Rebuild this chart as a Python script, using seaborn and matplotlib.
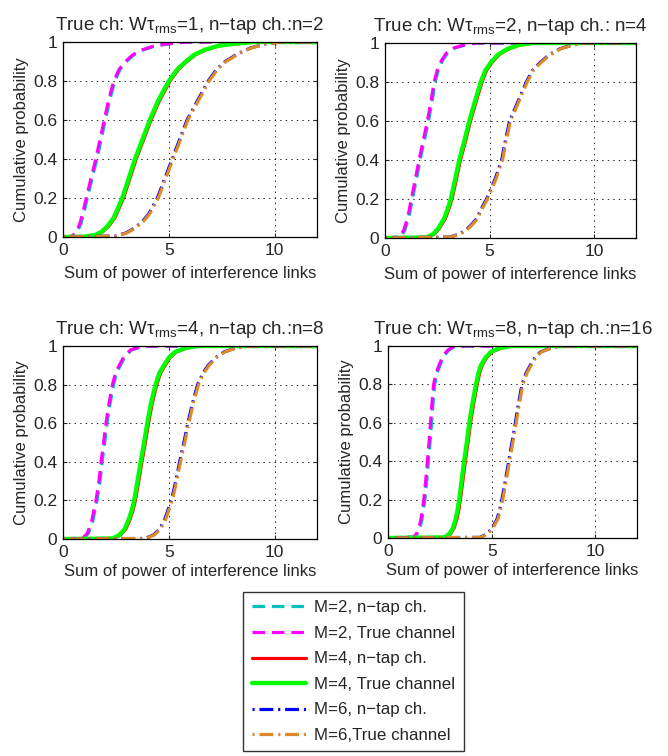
import pandas as pd
import matplotlib
matplotlib.use("Agg")
import matplotlib.pyplot as plt
import seaborn as sns

# panel titles
titles = [
    "True ch: Wτ$_\\mathregular{rms}$=1, n\u2212tap ch.:n=2",
    "True ch: Wτ$_\\mathregular{rms}$=2, n\u2212tap ch.: n=4",
    "True ch: Wτ$_\\mathregular{rms}$=4, n\u2212tap ch.:n=8",
    "True ch: Wτ$_\\mathregular{rms}$=8, n\u2212tap ch.:n=16",
]

# CDF points: (x, F) per panel
# panel 1
p1_m2_x = [0, 0.4, 0.6, 0.8, 0.95, 1.1, 1.3, 1.55, 1.75, 1.95, 2.15, 2.4, 2.65, 2.95, 3.3, 3.75, 4.3, 5.0, 5.8, 12]
p1_m2_f = [0, 0.003, 0.02, 0.07, 0.13, 0.2, 0.29, 0.4, 0.5, 0.6, 0.7, 0.8, 0.86, 0.9, 0.935, 0.96, 0.98, 0.992, 1, 1]
p1_m4_x = [0, 1.0, 1.5, 1.8, 2.1, 2.4, 2.6, 2.8, 3.1, 3.4, 3.75, 4.1, 4.5, 5.0, 5.4, 5.8, 6.2, 6.7, 7.3, 8.0, 9.0, 12]
p1_m4_f = [0, 0.002, 0.01, 0.025, 0.055, 0.1, 0.15, 0.2, 0.3, 0.4, 0.5, 0.6, 0.7, 0.8, 0.86, 0.9, 0.935, 0.96, 0.98, 0.99, 1, 1]
p1_m6_x = [0, 2.5, 3.0, 3.4, 3.8, 4.1, 4.5, 4.85, 5.2, 5.55, 5.9, 6.4, 6.9, 7.3, 7.7, 8.3, 8.9, 9.6, 10.3, 12]
p1_m6_f = [0, 0.005, 0.02, 0.045, 0.08, 0.12, 0.2, 0.3, 0.4, 0.5, 0.6, 0.7, 0.8, 0.86, 0.9, 0.94, 0.97, 0.99, 1, 1]
# panel 2
p2_m2_x = [0, 0.7, 0.9, 1.1, 1.26, 1.45, 1.63, 1.83, 2.03, 2.2, 2.35, 2.5, 2.7, 2.95, 3.3, 3.8, 4.3, 12]
p2_m2_f = [0, 0.005, 0.04, 0.11, 0.2, 0.3, 0.4, 0.5, 0.6, 0.7, 0.8, 0.86, 0.91, 0.95, 0.975, 0.99, 1, 1]
p2_m4_x = [0, 2.0, 2.3, 2.55, 2.83, 3.0, 3.15, 3.35, 3.55, 3.8, 4.03, 4.3, 4.58, 4.8, 5.06, 5.4, 5.86, 6.4, 7.1, 12]
p2_m4_f = [0, 0.003, 0.02, 0.05, 0.1, 0.15, 0.2, 0.3, 0.4, 0.5, 0.6, 0.7, 0.8, 0.86, 0.9, 0.94, 0.97, 0.99, 1, 1]
p2_m6_x = [0, 3.15, 3.6, 3.9, 4.15, 4.43, 4.65, 4.9, 5.3, 5.62, 5.8, 6.0, 6.4, 6.8, 7.1, 7.46, 7.9, 8.4, 9.0, 9.5, 12]
p2_m6_f = [0, 0.005, 0.02, 0.04, 0.065, 0.1, 0.15, 0.2, 0.3, 0.4, 0.5, 0.6, 0.7, 0.8, 0.86, 0.9, 0.94, 0.97, 0.99, 1, 1]
# panel 3
p3_m2_x = [0, 0.94, 1.15, 1.35, 1.56, 1.7, 1.8, 1.92, 2.03, 2.17, 2.34, 2.48, 2.66, 2.9, 3.2, 3.75, 12]
p3_m2_f = [0, 0.005, 0.03, 0.09, 0.2, 0.3, 0.4, 0.5, 0.6, 0.7, 0.8, 0.86, 0.9, 0.95, 0.98, 1, 1]
p3_m4_x = [0, 2.34, 2.65, 2.9, 3.1, 3.25, 3.36, 3.52, 3.67, 3.83, 3.98, 4.15, 4.37, 4.55, 4.77, 5.0, 5.3, 5.8, 6.4, 12]
p3_m4_f = [0, 0.003, 0.02, 0.05, 0.1, 0.15, 0.2, 0.3, 0.4, 0.5, 0.6, 0.7, 0.8, 0.86, 0.9, 0.94, 0.97, 0.99, 1, 1]
p3_m6_x = [0, 3.9, 4.3, 4.6, 4.84, 5.0, 5.16, 5.37, 5.55, 5.75, 5.94, 6.15, 6.4, 6.65, 6.9, 7.25, 7.66, 8.2, 8.75, 12]
p3_m6_f = [0, 0.003, 0.02, 0.05, 0.1, 0.15, 0.2, 0.3, 0.4, 0.5, 0.6, 0.7, 0.8, 0.86, 0.9, 0.94, 0.97, 0.99, 1, 1]
# panel 4
p4_m2_x = [0, 1.25, 1.42, 1.58, 1.73, 1.82, 1.9, 1.98, 2.05, 2.12, 2.2, 2.32, 2.46, 2.65, 2.9, 3.2, 12]
p4_m2_f = [0, 0.005, 0.03, 0.09, 0.2, 0.3, 0.4, 0.5, 0.6, 0.7, 0.8, 0.86, 0.9, 0.95, 0.98, 1, 1]
p4_m4_x = [0, 2.7, 2.95, 3.12, 3.27, 3.36, 3.43, 3.55, 3.67, 3.8, 3.92, 4.07, 4.24, 4.36, 4.48, 4.7, 4.97, 5.4, 5.94, 12]
p4_m4_f = [0, 0.003, 0.02, 0.05, 0.1, 0.15, 0.2, 0.3, 0.4, 0.5, 0.6, 0.7, 0.8, 0.86, 0.9, 0.94, 0.97, 0.99, 1, 1]
p4_m6_x = [0, 4.48, 4.8, 5.05, 5.3, 5.43, 5.53, 5.7, 5.86, 6.02, 6.18, 6.33, 6.5, 6.7, 6.9, 7.12, 7.4, 7.9, 8.37, 12]
p4_m6_f = [0, 0.003, 0.02, 0.05, 0.1, 0.15, 0.2, 0.3, 0.4, 0.5, 0.6, 0.7, 0.8, 0.86, 0.9, 0.94, 0.97, 0.99, 1, 1]

panels = [
    (p1_m2_x, p1_m2_f, p1_m4_x, p1_m4_f, p1_m6_x, p1_m6_f),
    (p2_m2_x, p2_m2_f, p2_m4_x, p2_m4_f, p2_m6_x, p2_m6_f),
    (p3_m2_x, p3_m2_f, p3_m4_x, p3_m4_f, p3_m6_x, p3_m6_f),
    (p4_m2_x, p4_m2_f, p4_m4_x, p4_m4_f, p4_m6_x, p4_m6_f),
]

labels = ["M=2, n\u2212tap ch.", "M=2, True channel",
          "M=4, n\u2212tap ch.", "M=4, True channel",
          "M=6, n\u2212tap ch.", "M=6,True channel"]
colors = ["#00BFBF", "#FF00FF", "#FF0000", "#00FF00", "#0000FF", "#DF8A28"]
styles = [(0, (9, 5)), (0, (9, 5)), "-", "-", (0, (1.5, 3.5, 10, 3.5)), (0, (1.5, 3.5, 10, 3.5))]
widths = [2.3, 2.3, 2.3, 3.1, 2.3, 2.3]
# small shift of the n-tap curve against the true channel curve
shifts = [0.05, 0.0, 0.06, 0.0, -0.04, 0.0]

sns.set_style("white")
plt.rcParams["font.family"] = ["Liberation Sans", "DejaVu Sans"]
plt.rcParams["mathtext.default"] = "regular"
plt.rcParams["lines.scale_dashes"] = False

fig = plt.figure(figsize=(6.68, 7.56), dpi=100)
boxes = [
    [0.0943, 0.6865, 0.3803, 0.2579],
    [0.5763, 0.6852, 0.3757, 0.2579],
    [0.0943, 0.2870, 0.3803, 0.2553],
    [0.5808, 0.2884, 0.3728, 0.2539],
]
xlabel_pads = [6, 6, 3, 3]

for i, (box, pdata, title) in enumerate(zip(boxes, panels, titles)):
    ax = fig.add_axes(box)
    curves = [(pdata[0], pdata[1]), (pdata[0], pdata[1]),
              (pdata[2], pdata[3]), (pdata[2], pdata[3]),
              (pdata[4], pdata[5]), (pdata[4], pdata[5])]
    for k, (xs, fs) in enumerate(curves):
        df = pd.DataFrame({"x": [v + shifts[k] if 0 < v < 12 else v for v in xs], "F": fs})
        sns.lineplot(data=df, x="x", y="F", ax=ax, color=colors[k], lw=widths[k],
                     linestyle=styles[k], label=labels[k], sort=False, estimator=None)
    ax.set_xlim(0, 12)
    ax.set_ylim(0, 1)
    ax.set_xticks([0, 5, 10])
    ax.set_yticks([0, 0.2, 0.4, 0.6, 0.8, 1])
    ax.set_yticklabels(["0", "0.2", "0.4", "0.6", "0.8", "1"])
    ax.grid(True, color="black", linestyle=(0, (1, 3)), linewidth=0.6)
    ax.tick_params(direction="in", length=3, labelsize=12.5, top=True, right=True,
                   bottom=True, left=True, pad=4)
    for s in ax.spines.values():
        s.set_color("black")
        s.set_linewidth(0.9)
    ax.set_xlabel("Sum of power of interference links", fontsize=12, labelpad=xlabel_pads[i])
    ax.set_ylabel("Cumulative probability", fontsize=12, labelpad=3)
    ax.set_title(title, fontsize=13.5, pad=9)
    if i == 0:
        handles, labs = ax.get_legend_handles_labels()
    ax.get_legend().remove()

leg = fig.legend(handles, labs, loc="upper left", bbox_to_anchor=(0.364, 0.217),
                 fontsize=12.2, frameon=True, fancybox=False, handlelength=3.2,
                 labelspacing=0.62, borderpad=0.5, handletextpad=0.5, borderaxespad=0)
leg.get_frame().set_edgecolor("black")
leg.get_frame().set_linewidth(1.0)

fig.savefig("out.png", dpi=100)
